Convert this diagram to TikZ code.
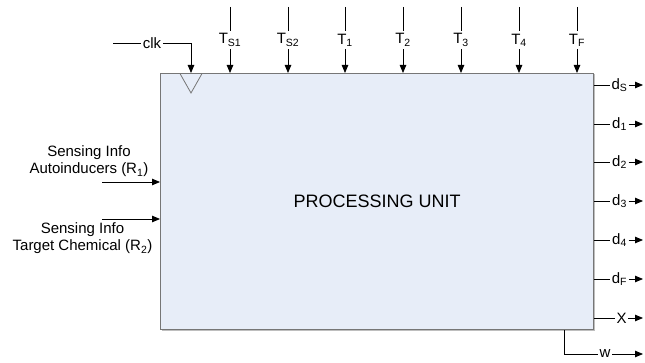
\documentclass[tikz,border=0pt]{standalone}
\usepackage{fontspec}
\setmainfont{Liberation Sans}
\usetikzlibrary{arrows.meta}
\definecolor{boxfill}{RGB}{231,237,248}
\definecolor{boxline}{RGB}{118,118,118}
\definecolor{boxshadow}{RGB}{190,190,190}
\begin{document}
\begin{tikzpicture}[x=1pt,y=-1pt,
  lbl/.style={font=\fontsize{15}{17}\selectfont, inner sep=1.5pt},
  toplbl/.style={lbl, inner sep=0pt, minimum height=18pt},
  inlbl/.style={lbl, align=center},
  wire/.style={line width=0.8pt},
  arr/.style={wire, -{Triangle[length=8pt,width=6.5pt]}},
  pubox/.style={draw=boxline, fill=boxfill, line width=1.2pt, inner sep=0pt,
    minimum width=433pt, minimum height=256pt, anchor=north west,
    font=\fontsize{18}{22}\selectfont}]
\useasboundingbox (0,0) rectangle (645,363);
% shadow and box
\fill[boxshadow] (161.5,74.5) rectangle (595,331);
\node[pubox] (pu) at (160,73) {PROCESSING UNIT};
% clock triangle
\draw[boxline, line width=0.8pt] (180,73.6) -- (191,93) -- (202,73.6);
% clk input
\coordinate (clkin) at (113,43);
\node[lbl] (clk) at (152,43) {clk};
\draw[wire] (clkin) -- (clk.west);
\draw[arr] (clk.east) -| ([xshift=31pt]pu.north west);
% top inputs
\foreach \x/\t/\n in {230/{T\textsubscript{S1}}/ts1, 288/{T\textsubscript{S2}}/ts2,
    345/{T\textsubscript{1}}/t1, 403/{T\textsubscript{2}}/t2, 461/{T\textsubscript{3}}/t3,
    519/{T\textsubscript{4}}/t4, 577/{T\textsubscript{F}}/tf}{
  \coordinate (\n top) at (\x,7);
  \node[toplbl] (\n) at (\x,40) {\t};
  \draw[wire] (\n top) -- (\n.north);
  \draw[arr] (\n.south) -- (\n.south |- pu.north);
}
% right outputs
\foreach \y/\t/\n/\cx in {85/{d\textsubscript{S}}/ds/619.5, 124/{d\textsubscript{1}}/d1/619.5,
    162/{d\textsubscript{2}}/d2/619.5, 201/{d\textsubscript{3}}/d3/619.5,
    240/{d\textsubscript{4}}/d4/619.5, 279/{d\textsubscript{F}}/df/619.5, 318/X/xo/621.5}{
  \coordinate (\n tip) at (643,\y);
  \node[lbl] (\n) at (\cx,\y) {\t};
  \draw[wire] (pu.east |- \n) -- (\n.west);
  \draw[arr] (\n.east) -- (\n tip);
}
% w output
\coordinate (wtip) at (643,354);
\node[lbl] (w) at (605,354) {w};
\draw[wire] ([xshift=-30pt]pu.south east) |- (w.west);
\draw[arr] (w.east) -- (wtip);
% left inputs
\coordinate (r1in) at (102,182);
\coordinate (r2in) at (102,219);
\draw[arr] (r1in) -- (pu.west |- r1in);
\draw[arr] (r2in) -- (pu.west |- r2in);
\node[inlbl] (r1) at (89,161.5) {Sensing Info\\Autoinducers (R\textsubscript{1})};
\node[inlbl] (r2) at (82.5,238.5) {Sensing Info\\Target Chemical (R\textsubscript{2})};
\end{tikzpicture}
\end{document}
